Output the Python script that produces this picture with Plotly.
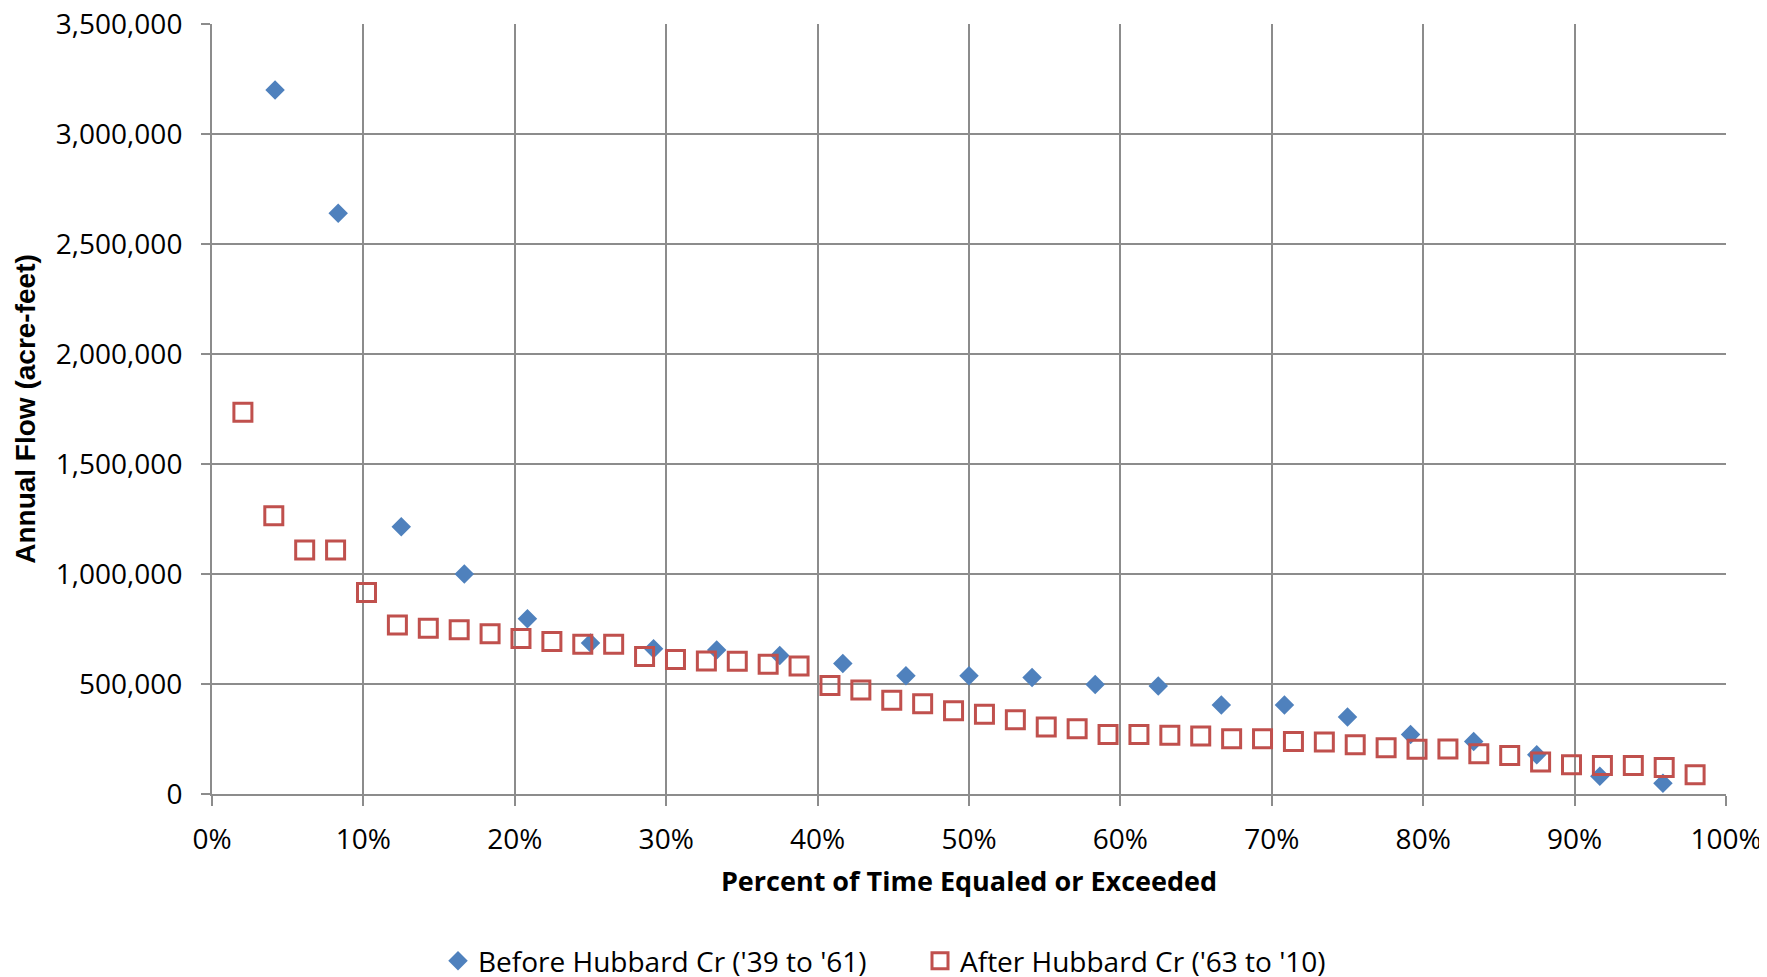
import plotly.graph_objects as go

# ---- data ----
before_name = "Before Hubbard Cr ('39 to '61)"
after_name = "After Hubbard Cr ('63 to '10)"

before_rank = list(range(1, 24))          # 23 years, plotted at rank/24
before_n = 24
before_flow = [3200000, 2640000, 1215000, 1000000, 797000, 686000, 660000, 654000,
               629000, 593000, 538000, 538000, 530000, 498000, 491000, 405000,
               405000, 350000, 270000, 239000, 178000, 81000, 49000]

after_rank = list(range(1, 49))           # 48 years, plotted at rank/49
after_n = 49
after_flow = [1735000, 1265000, 1109000, 1109000, 916000, 768000, 753000, 747000,
              728000, 707000, 693000, 681000, 681000, 625000, 611000, 605000,
              603000, 590000, 582000, 493000, 473000, 426000, 410000, 378000,
              363000, 338000, 305000, 297000, 271000, 270000, 267000, 264000,
              251000, 251000, 239000, 236000, 224000, 210000, 203000, 204000,
              183000, 175000, 145000, 133000, 130000, 130000, 120000, 87000]

before_pct = [r / before_n for r in before_rank]
after_pct = [r / after_n for r in after_rank]

x_ticks = [i / 10 for i in range(11)]
y_ticks = [i * 500000 for i in range(8)]

BLUE = "#4F81BD"
RED = "#C0504D"
GRID = "#8C8C8C"
FONT = "Open Sans"

fig = go.Figure()
fig.add_trace(go.Scatter(
    x=before_pct, y=before_flow, mode="markers", name=before_name,
    marker=dict(symbol="diamond", size=15, color=BLUE, line=dict(width=0)),
    legend="legend",
))
fig.add_trace(go.Scatter(
    x=after_pct, y=after_flow, mode="markers", name=after_name,
    marker=dict(symbol="square-open", size=18, color=RED, line=dict(width=3, color=RED)),
    legend="legend2",
))

leg_common = dict(orientation="h", xref="container", yref="container",
                  y=0.0246, yanchor="middle", xanchor="left",
                  font=dict(family=FONT, size=28, color="black"),
                  itemwidth=30, bgcolor="rgba(0,0,0,0)")

fig.update_layout(
    width=1767, height=977,
    paper_bgcolor="white", plot_bgcolor="white",
    margin=dict(l=204, r=49, t=16, b=191, autoexpand=False),
    font=dict(family=FONT, size=28, color="black"),
    showlegend=True,
    legend=dict(x=430 / 1767, **leg_common),
    legend2=dict(x=912 / 1767, **leg_common),
    xaxis=dict(
        range=[0, 1], tickvals=x_ticks, tickformat=".0%",
        showgrid=True, gridcolor=GRID, gridwidth=2,
        showline=True, linecolor=GRID, linewidth=2,
        ticks="outside", ticklen=10, tickcolor=GRID, tickwidth=2,
        zeroline=False, mirror=False, automargin=False,
        ticklabeloverflow="allow",
        tickfont=dict(family=FONT, size=28),
        ticklabelstandoff=9,
        title=dict(text="<b>Percent of Time Equaled or Exceeded</b>",
                   font=dict(family=FONT, size=27), standoff=17),
    ),
    yaxis=dict(
        range=[0, 3500000], tickvals=y_ticks, tickformat=",d",
        showgrid=True, gridcolor=GRID, gridwidth=2,
        showline=True, linecolor=GRID, linewidth=2,
        ticks="outside", ticklen=9, tickcolor=GRID, tickwidth=2,
        zeroline=False, automargin=False,
        ticklabeloverflow="allow",
        tickfont=dict(family=FONT, size=28),
        ticklabelstandoff=13,
        title=dict(text="<b>Annual Flow (acre-feet)</b>",
                   font=dict(family="Liberation Sans", size=28), standoff=12),
    ),
)

fig.write_html("out.html")
